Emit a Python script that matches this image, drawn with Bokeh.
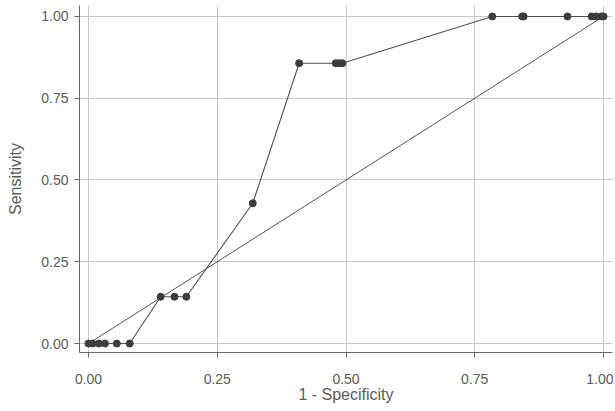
from bokeh.plotting import figure
from bokeh.models import FixedTicker, NumeralTickFormatter, Range1d
from bokeh.embed import file_html
from bokeh.resources import INLINE

# ROC curve points
fpr = [0.0, 0.008, 0.02, 0.032, 0.055, 0.08, 0.14, 0.167, 0.19, 0.319, 0.409,
       0.48, 0.486, 0.493, 0.784, 0.842, 0.845, 0.93, 0.977, 0.986, 0.996, 1.0]
tpr = [0.0, 0.0, 0.0, 0.0, 0.0, 0.0, 0.143, 0.143, 0.143, 0.429, 0.857,
       0.857, 0.857, 0.857, 1.0, 1.0, 1.0, 1.0, 1.0, 1.0, 1.0, 1.0]
diag_x = [0.0, 1.0]
diag_y = [0.0, 1.0]
ticks = [0.0, 0.25, 0.5, 0.75, 1.0]

FONT = "Liberation Sans"
TXT = "#5a5a5a"

p = figure(width=613, height=405, output_backend="svg", toolbar_location=None,
           x_range=Range1d(-0.0175, 1.0175), y_range=Range1d(-0.0274, 1.0334),
           min_border_left=79, min_border_right=1, min_border_top=5,
           min_border_bottom=51)
p.outline_line_color = None
p.background_fill_color = "white"

for ax in (p.xaxis[0], p.yaxis[0]):
    ax.ticker = FixedTicker(ticks=ticks)
    ax.formatter = NumeralTickFormatter(format="0.00")
    ax.major_label_text_font = FONT
    ax.major_label_text_font_size = "14px"
    ax.major_label_text_color = TXT
    ax.axis_label_text_font = FONT
    ax.axis_label_text_font_size = "16px"
    ax.axis_label_text_font_style = "normal"
    ax.axis_label_text_color = TXT
    ax.axis_line_color = "#6a6a6a"
    ax.major_tick_line_color = "#6a6a6a"
    ax.major_tick_out = 5
    ax.major_tick_in = 0
    ax.minor_tick_line_color = None

p.xaxis.axis_label = "1 - Specificity"
p.yaxis.axis_label = "Sensitivity"
p.xaxis.major_label_standoff = 16
p.xaxis.axis_label_standoff = -1
p.yaxis.major_label_standoff = 6
p.yaxis.axis_label_standoff = 14

p.xgrid.ticker = FixedTicker(ticks=ticks)
p.ygrid.ticker = FixedTicker(ticks=ticks)
p.grid.grid_line_color = "#c8c8c8"
p.grid.grid_line_width = 1

p.line(diag_x, diag_y, line_color="#555555", line_width=1)
p.line(fpr, tpr, line_color="#505050", line_width=1.1)
p.scatter(fpr, tpr, size=7, fill_color="#3c3c3c", line_color="#3c3c3c")

open("out.html", "w").write(file_html(p, INLINE))
